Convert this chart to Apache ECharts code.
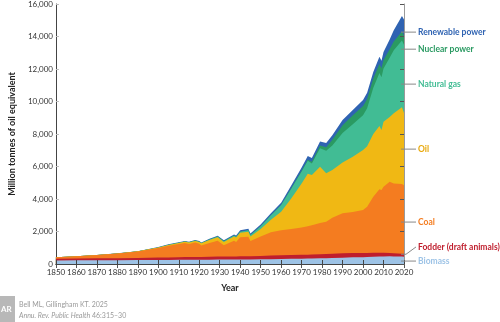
<!DOCTYPE html>
<html>
<head>
<meta charset="utf-8">
<script src="https://cdn.jsdelivr.net/npm/echarts@6/dist/echarts.min.js"></script>
<style>
  html, body { margin: 0; padding: 0; background: #fff; }
  #energy { width: 500px; height: 322px; }
</style>
</head>
<body>
<div id="energy"></div>
<script>
// years (x positions)
var years = [1850, 1860, 1870, 1880, 1890, 1900, 1905, 1910, 1913, 1915, 1918, 1920, 1921, 1925, 1929, 1932,
  1937, 1938, 1940, 1944, 1945, 1950, 1955, 1960, 1965, 1970, 1973, 1975, 1979, 1982, 1985, 1990,
  1995, 2000, 2002, 2005, 2008, 2009, 2010, 2013, 2015, 2019, 2020];

// layer thickness, million tonnes of oil equivalent
var biomass = [220, 225, 230, 235, 240, 250, 250, 255, 255, 258, 260, 260, 260, 265, 270, 270,
  275, 275, 280, 280, 280, 290, 300, 310, 320, 330, 335, 340, 350, 360, 370, 390,
  410, 420, 430, 440, 455, 460, 465, 470, 465, 455, 450];
var fodder = [110, 115, 120, 125, 135, 150, 155, 165, 170, 170, 175, 175, 175, 180, 185, 185,
  190, 190, 195, 195, 195, 210, 220, 225, 230, 235, 240, 240, 250, 255, 260, 265,
  260, 255, 250, 245, 235, 230, 225, 210, 200, 180, 175];
var coal = [80, 130, 200, 290, 395, 580, 715, 810, 875, 800, 885, 805, 705, 855, 975, 695,
  965, 885, 1175, 1205, 945, 1200, 1430, 1545, 1600, 1685, 1745, 1800, 1920, 1985, 2220, 2465,
  2530, 2645, 2840, 3455, 3910, 3860, 4060, 4380, 4295, 4285, 4225];
var oil = [0, 0, 0, 0, 10, 30, 50, 60, 70, 90, 100, 110, 130, 180, 210, 210,
  270, 280, 270, 310, 280, 450, 770, 1140, 1890, 2710, 3230, 3090, 3460, 2980, 2930, 3130,
  3400, 3690, 3720, 3860, 3900, 3700, 4000, 3990, 4310, 4730, 4450];
var gas = [0, 0, 0, 0, 0, 10, 15, 20, 20, 20, 20, 20, 20, 30, 50, 40,
  50, 50, 70, 90, 90, 180, 280, 410, 610, 740, 800, 720, 1150, 1390, 1520, 1810,
  2000, 2150, 2350, 2850, 3250, 3250, 3280, 3650, 3890, 4100, 4200];
var nuclear = [0, 0, 0, 0, 0, 0, 0, 0, 0, 0, 0, 0, 0, 0, 0, 0,
  0, 0, 0, 0, 0, 0, 0, 5, 20, 40, 70, 110, 160, 210, 350, 480,
  550, 560, 565, 570, 560, 550, 520, 520, 530, 560, 540];
var renewable = [5, 5, 5, 5, 10, 20, 25, 30, 30, 35, 40, 40, 40, 50, 55, 55,
  65, 70, 80, 90, 90, 100, 120, 140, 170, 200, 220, 230, 250, 260, 280, 320,
  330, 370, 380, 400, 450, 460, 500, 600, 700, 950, 1000];

var xTicks = [1850, 2020, 10];          // min, max, step
var yTicks = [0, 16000, 2000];

var layers = [
  {name: 'Biomass', data: biomass, color: '#9dc3e6', label: 180},
  {name: 'Fodder (draft animals)', data: fodder, color: '#bf1e2d', label: 1050, from: 600},
  {name: 'Coal', data: coal, color: '#f47c20', label: 2580},
  {name: 'Oil', data: oil, color: '#f0b814', label: 7070},
  {name: 'Natural gas', data: gas, color: '#41bc94', label: 11070},
  {name: 'Nuclear power', data: nuclear, color: '#2a9a62', label: 13220},
  {name: 'Renewable power', data: renewable, color: '#2f63b2', label: 14270}
];
var labelColor = {'Oil': '#e9a90c', 'Biomass': '#9dc3e6'};

// running totals, so each layer is drawn from 0 up to its top; lower layers paint over
var running = years.map(function () { return 0; });
layers.forEach(function (l) {
  l.top = l.data.map(function (v, i) { running[i] += v; return running[i]; });
});

var chart = echarts.init(document.getElementById('energy'));

var axisFont = {fontFamily: 'Lato', fontSize: 8, color: '#333'};

var option = {
  animation: false,
  grid: {left: 43, right: 96, top: 4, bottom: 58},
  xAxis: [
    {
      type: 'value', min: xTicks[0], max: xTicks[1], interval: xTicks[2],
      name: 'Year', nameLocation: 'middle', nameGap: 20,
      nameTextStyle: {fontFamily: 'Lato', fontWeight: 'bold', fontSize: 9, color: '#222'},
      axisLine: {lineStyle: {color: '#444', width: 1}},
      axisTick: {inside: true, length: 4, lineStyle: {color: '#444'}},
      axisLabel: Object.assign({margin: 4, formatter: function (v) { return String(v); }}, axisFont),
      splitLine: {show: false},
      z: 10
    },
    {
      type: 'value', position: 'top', min: xTicks[0], max: xTicks[1], interval: xTicks[2],
      axisLine: {show: true, lineStyle: {color: '#555', width: 1}},
      axisTick: {show: true, inside: true, length: 4, lineStyle: {color: '#555'}},
      axisLabel: {show: false},
      splitLine: {show: false}
    }
  ],
  yAxis: [
    {
      type: 'value', min: yTicks[0], max: yTicks[1], interval: yTicks[2],
      name: 'Million tonnes of oil equivalent', nameLocation: 'middle', nameGap: 34,
      nameTextStyle: {fontFamily: 'Lato', fontWeight: 'bold', fontSize: 9, color: '#222'},
      axisLine: {show: true, lineStyle: {color: '#444', width: 1}},
      axisTick: {show: true, inside: true, length: 3, lineStyle: {color: '#bbb'}},
      axisLabel: Object.assign({margin: 3, formatter: function (v) { return v.toLocaleString('en-US'); }}, axisFont),
      splitLine: {show: false}
    },
    {
      type: 'value', position: 'right', min: yTicks[0], max: yTicks[1], interval: yTicks[2],
      axisLine: {show: true, lineStyle: {color: '#999', width: 1}},
      axisTick: {show: true, inside: true, length: 4, lineStyle: {color: '#555'}},
      axisLabel: {show: false},
      splitLine: {show: false},
      z: 10
    }
  ],
  // topmost layer first, so every lower layer is painted over it
  series: layers.slice().reverse().map(function (l) {
    return {
      name: l.name,
      type: 'line',
      symbol: 'none',
      lineStyle: {width: 0},
      areaStyle: {color: l.color, opacity: 1},
      data: years.map(function (y, i) { return [y, l.top[i]]; })
    };
  })
};
chart.setOption(option);

// side labels with grey connector lines
var xEdge = chart.convertToPixel({xAxisIndex: 0}, xTicks[1]);
var graphics = [];
layers.forEach(function (l) {
  var py = chart.convertToPixel({yAxisIndex: 0}, l.label);
  var py0 = l.from != null ? chart.convertToPixel({yAxisIndex: 0}, l.from) : py;
  graphics.push({
    type: 'polyline',
    shape: {points: [[xEdge - 3, py0], [xEdge + 2, py0], [xEdge + 12, py]]},
    style: {stroke: '#888', lineWidth: 1, fill: null},
    z: 20
  });
  graphics.push({
    type: 'text', x: xEdge + 14, y: py,
    style: {
      text: l.name, fill: labelColor[l.name] || l.color,
      font: 'bold 8.5px Lato', verticalAlign: 'middle'
    }
  });
});

// source note
graphics.push({type: 'rect', shape: {x: 0, y: 296, width: 15, height: 26}, style: {fill: '#b8b8b8'}});
graphics.push({type: 'text', x: 1, y: 309, style: {text: 'AR', fill: '#fff', font: 'bold 8px Lato', verticalAlign: 'middle'}});
graphics.push({type: 'text', x: 19, y: 305, style: {text: 'Bell ML, Gillingham KT. 2025', fill: '#9a9a9a', font: '7px Lato', verticalAlign: 'middle'}});
graphics.push({
  type: 'text', x: 19, y: 316,
  style: {
    text: '{i|Annu. Rev. Public Health} 46:315–30', fill: '#9a9a9a', font: '7px Lato', verticalAlign: 'middle',
    rich: {i: {fontStyle: 'italic', fontFamily: 'Lato', fontSize: 7, fill: '#9a9a9a'}}
  }
});

chart.setOption({graphic: graphics});
</script>
</body>
</html>
